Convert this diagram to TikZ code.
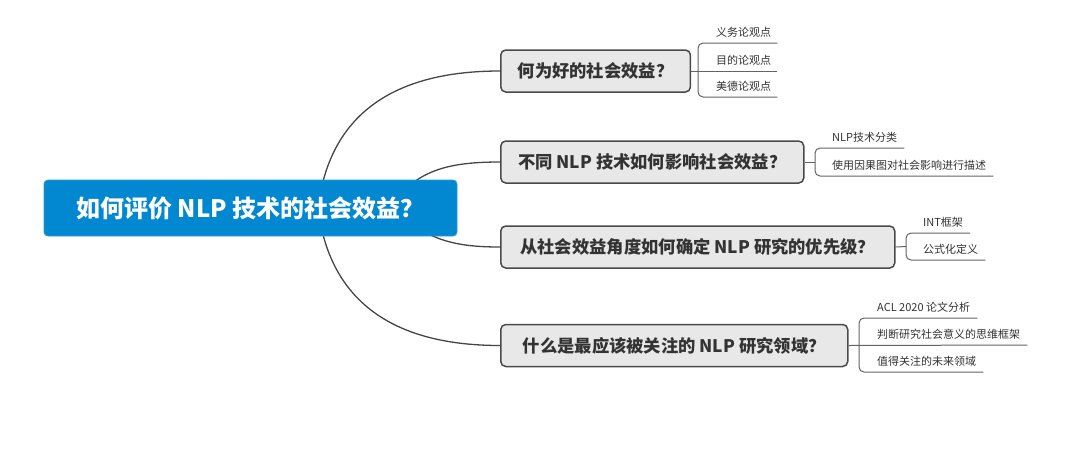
\documentclass[tikz,border=0pt]{standalone}
\usepackage{fontspec}
\setmainfont{Noto Sans CJK SC}
\usetikzlibrary{calc,backgrounds}
\definecolor{rootblue}{RGB}{2,136,209}
\definecolor{boxfill}{RGB}{232,232,232}
\definecolor{boxline}{RGB}{74,74,74}
\definecolor{txt}{RGB}{51,51,51}
\definecolor{linecol}{RGB}{70,70,70}
\definecolor{leafcol}{RGB}{100,100,100}
\tikzset{
  rootbox/.style={fill=rootblue, draw=rootblue!85!white, rounded corners=4pt, line width=0.8pt,
    minimum width=413pt, minimum height=56pt, text=white, font=\fontsize{24}{28}\selectfont\bfseries},
  branchbox/.style={fill=boxfill, draw=boxline, line width=1.5pt, rounded corners=5pt,
    minimum height=42pt, inner xsep=17pt, anchor=west, text=txt, font=\fontsize{17.3}{20}\selectfont\bfseries},
  leaf/.style={anchor=south west, inner xsep=0pt, inner ysep=4pt, text height=9pt, text depth=2pt,
    text=txt, font=\fontsize{11}{13}\selectfont},
  mainline/.style={draw=linecol, line width=1.3pt},
  leafline/.style={draw=leafcol, line width=1pt},
}
\begin{document}
\begin{tikzpicture}[x=1pt,y=-1pt]
\useasboundingbox (0,0) rectangle (1080,451);
% root
\node[rootbox] (root) at (250.5,208) {如何评价 NLP 技术的社会效益？};
% branches
\node[branchbox, minimum width=188pt] (b1) at (500,71) {何为好的社会效益？};
\node[branchbox, minimum width=303pt] (b2) at (500,162) {不同 NLP 技术如何影响社会效益？};
\node[branchbox, minimum width=394pt] (b3) at (500,247) {从社会效益角度如何确定 NLP 研究的优先级？};
\node[branchbox, minimum width=347pt] (b4) at (500,345.5) {什么是最应该被关注的 NLP 研究领域？};
% main connectors (behind root)
\begin{scope}[on background layer]
\fill[white] (0,0) rectangle (1080,451);
\draw[mainline] ($(root.center)+(67.5,0)$) .. controls +(12,-98) and +(-101,0) .. (b1.west);
\draw[mainline] ($(root.center)+(144.5,-8)$) .. controls +(25,-30) and +(-51,0) .. (b2.west);
\draw[mainline] ($(root.center)+(149.5,7)$) .. controls +(30,25) and +(-45,0) .. (b3.west);
\draw[mainline] ($(root.center)+(67.5,0)$) .. controls +(12,98) and +(-101,0) .. (b4.west);
\end{scope}
% bracket coordinates
\coordinate (k1) at (698,71);
\coordinate (k2) at (815,162);
\coordinate (k3) at (906,246.5);
\coordinate (k4) at (859,345);
% leaves B1
\node[leaf] (l11) at (716,43) {义务论观点};
\node[leaf] (l12) at (716,71) {目的论观点};
\node[leaf] (l13) at (716,97) {美德论观点};
\draw[leafline] (b1.east) -- ($(l12.south east)+(6,0)$);
\draw[leafline, rounded corners=5pt] ($(l11.south east)+(6,0)$) -- (k1 |- l11.south) -- (k1 |- l13.south) -- ($(l13.south east)+(6,0)$);
% leaves B2
\node[leaf] (l21) at (832,148) {NLP技术分类};
\node[leaf] (l22) at (832,176) {使用因果图对社会影响进行描述};
\draw[leafline] (b2.east) -- (k2);
\draw[leafline, rounded corners=5pt] ($(l21.south east)+(7,0)$) -- (k2 |- l21.south) -- (k2 |- l22.south) -- ($(l22.south east)+(7,0)$);
% leaves B3
\node[leaf] (l31) at (923,233) {INT框架};
\node[leaf] (l32) at (923,260) {公式化定义};
\draw[leafline] (b3.east) -- (k3);
\draw[leafline, rounded corners=5pt] ($(l31.south east)+(7,0)$) -- (k3 |- l31.south) -- (k3 |- l32.south) -- ($(l32.south east)+(7,0)$);
% leaves B4
\node[leaf] (l41) at (877,318) {ACL 2020 论文分析};
\node[leaf] (l42) at (877,345) {判断研究社会意义的思维框架};
\node[leaf] (l43) at (877,372) {值得关注的未来领域};
\draw[leafline] (b4.east) -- ($(l42.south east)+(7,0)$);
\draw[leafline, rounded corners=5pt] ($(l41.south east)+(7,0)$) -- (k4 |- l41.south) -- (k4 |- l43.south) -- ($(l43.south east)+(7,0)$);
\end{tikzpicture}
\end{document}
